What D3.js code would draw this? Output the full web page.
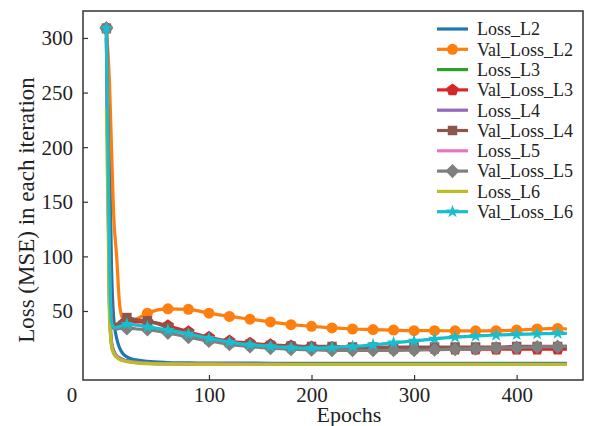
<!DOCTYPE html>
<html><head><meta charset="utf-8">
<script src="https://cdn.jsdelivr.net/npm/d3@7/dist/d3.min.js"></script>
<style>body{margin:0;background:#fff}svg{display:block}</style>
</head><body><svg id="c" width="589" height="426"></svg>
<script>
const epochs = [0,3,5,7,10,13,16,20,25,30,40,60,80,100,120,140,160,180,200,220,240,260,280,300,320,340,360,380,400,420,440,449];
const lossL2    = [308,200,90,45,25,16,11,8,6,5,3.8,2.8,2.4,2.3,2.2,2.2,2.1,2.1,2.1,2,2,2,2,2,2,2,2,2,2,2,2,2];
const valLossL2 = [309,260,200,140,100,55,43,41,41,43,48,52,51.5,48,45,42.5,40,37.5,36,34.5,33.5,33,32.5,32,32,31.8,31.8,32,32.5,33.5,34,33.5];
const lossL3    = [300,60,22,14,9,7,5.5,4.5,3.6,3,2.3,1.8,1.6,1.5,1.4,1.4,1.4,1.3,1.3,1.3,1.3,1.3,1.3,1.3,1.3,1.3,1.3,1.3,1.3,1.3,1.3,1.3];
const valLossL3 = [309,120,50,38,37,38,39,40,40,40,40,36.5,31,26,22.5,20.5,19,18,17,16.5,16,16,15.5,15.5,15.5,15,15,15,15,15,15,15];
const lossL4    = [300,55,20,13,8.5,6.5,5.2,4.2,3.4,2.9,2.2,1.7,1.5,1.4,1.3,1.3,1.3,1.2,1.2,1.2,1.2,1.2,1.2,1.2,1.2,1.2,1.2,1.2,1.2,1.2,1.2,1.2];
const valLossL4 = [309,110,45,38,38,40,42,44,43,42,41,35,29,24,21,19.5,18.5,18,17.5,17.5,17,17,17,17,17,17,17,17,17.5,17.5,17.5,17.5];
const lossL5    = [300,52,19,12.5,8.2,6.2,5,4,3.3,2.8,2.1,1.6,1.4,1.3,1.3,1.2,1.2,1.2,1.2,1.2,1.2,1.2,1.2,1.2,1.2,1.2,1.2,1.2,1.2,1.2,1.2,1.2];
const valLossL5 = [309,90,40,34,33.5,34,34,34,34,33.5,33,30,26,22.5,19.5,17.5,16,15,14.5,14,14,14,14,14.2,14.5,15,15.5,16,16.5,17,17.3,17.5];
const lossL6    = [235,45,18,11,7.5,5.5,4.5,3.5,2.8,2.3,1.8,1.4,1.2,1.1,1,1,1,1,1,1,1,1,1,1,1,1,1,1,1,1,1,1];
const valLossL6 = [309,100,40,35,35,36,37,38,37.5,37,35.5,32.5,29,25,21.5,19,17.5,16.5,16,16.5,17.5,19,21,22.5,24.5,26,27,28,28.5,29,29.5,29.5];
const seriesNames = ["Loss_L2","Val_Loss_L2","Loss_L3","Val_Loss_L3","Loss_L4","Val_Loss_L4","Loss_L5","Val_Loss_L5","Loss_L6","Val_Loss_L6"];
const seriesValues = [lossL2,valLossL2,lossL3,valLossL3,lossL4,valLossL4,lossL5,valLossL5,lossL6,valLossL6];
const colors = ["#1f77b4","#ff7f0e","#2ca02c","#d62728","#9467bd","#8c564b","#e377c2","#7f7f7f","#bcbd22","#17becf"];
const xTicks = [100,200,300,400];
const yTicks = [50,100,150,200,250,300];

const pentagon = {draw(ctx,size){const r=Math.sqrt(size/2.38);for(let i=0;i<5;i++){const a=-Math.PI/2+i*2*Math.PI/5;const px=r*Math.cos(a),py=r*Math.sin(a);i?ctx.lineTo(px,py):ctx.moveTo(px,py);}ctx.closePath();}};
const diamondSq = {draw(ctx,size){const r=Math.sqrt(size/2);ctx.moveTo(0,-r);ctx.lineTo(r,0);ctx.lineTo(0,r);ctx.lineTo(-r,0);ctx.closePath();}};
const markers = [null,{t:d3.symbolCircle,s:95},null,{t:pentagon,s:100},null,{t:d3.symbolSquare,s:90},null,{t:diamondSq,s:100},null,{t:d3.symbolStar,s:55}];

const svg = d3.select("#c");
const L=83,R=583,T=11,B=380;
const x = d3.scaleLinear().domain([-22.8,464.7]).range([L,R]);
const y = d3.scaleLinear().domain([-13.2,324.7]).range([B,T]);
const font = "Liberation Serif, Times New Roman, serif";

svg.append("defs").append("clipPath").attr("id","clip").append("rect").attr("x",L).attr("y",T).attr("width",R-L).attr("height",B-T);
const plot = svg.append("g").attr("clip-path","url(#clip)");
const line = d3.line().x((d,i)=>x(epochs[i])).y(d=>y(d)).curve(d3.curveMonotoneX);

seriesValues.forEach((vals,k)=>{
  const g = plot.append("g");
  g.append("path").attr("d",line(vals)).attr("fill","none").attr("stroke",colors[k]).attr("stroke-width",3.2).attr("stroke-linejoin","round");
  if(markers[k]){
    const sym = d3.symbol().type(markers[k].t).size(markers[k].s);
    vals.forEach((v,i)=>{
      if(epochs[i]%20===0){
        g.append("path").attr("d",sym()).attr("transform",`translate(${x(epochs[i])},${y(v)})`).attr("fill",colors[k]);
      }
    });
  }
});

// axes
const xa = svg.append("g").attr("transform",`translate(0,${B})`).call(d3.axisBottom(x).tickValues(xTicks).tickSizeInner(-5).tickSizeOuter(0).tickPadding(10));
const ya = svg.append("g").attr("transform",`translate(${L},0)`).call(d3.axisLeft(y).tickValues(yTicks).tickSizeInner(-5).tickSizeOuter(0).tickPadding(10));
[xa,ya].forEach(a=>{a.select(".domain").remove();a.selectAll("line").attr("stroke","#333").attr("stroke-width",1.2);a.selectAll("text").attr("font-family",font).attr("font-size",21).attr("fill","#222");});
xa.selectAll("text").attr("dy",null).attr("y",22);
ya.selectAll("text").attr("dy","0.33em");
svg.append("rect").attr("x",L).attr("y",T).attr("width",R-L).attr("height",B-T).attr("fill","none").attr("stroke","#333").attr("stroke-width",1.5);
svg.append("text").attr("x",72).attr("y",402).attr("text-anchor","middle").attr("font-family",font).attr("font-size",21).attr("fill","#222").text("0");
svg.append("text").attr("x",349).attr("y",422).attr("text-anchor","middle").attr("font-family",font).attr("font-size",22).attr("fill","#222").text("Epochs");
svg.append("text").attr("transform","translate(34,210) rotate(-90)").attr("text-anchor","middle").attr("font-family",font).attr("font-size",23).attr("fill","#222").text("Loss (MSE) in each iteration");

// legend
const lg = svg.append("g");
seriesNames.forEach((n,k)=>{
  const cy = 29 + k*20.3;
  lg.append("line").attr("x1",437).attr("x2",468).attr("y1",cy).attr("y2",cy).attr("stroke",colors[k]).attr("stroke-width",3.2);
  if(markers[k]) lg.append("path").attr("d",d3.symbol().type(markers[k].t).size(markers[k].s)()).attr("transform",`translate(452.5,${cy})`).attr("fill",colors[k]);
  lg.append("text").attr("x",477).attr("y",cy).attr("dy","0.35em").attr("font-family",font).attr("font-size",18).attr("fill","#222").text(n);
});
</script></body></html>
